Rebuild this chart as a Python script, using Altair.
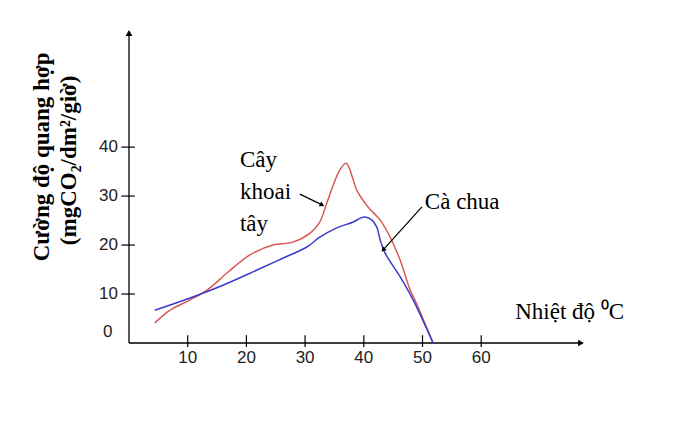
import altair as alt
import pandas as pd

# --- data ---
red_T = [4.4, 7.0, 10.4, 13.3, 16.7, 20.6, 24.5, 27.9, 30.8, 32.5, 33.7, 35.9, 37.0, 38.1, 38.8, 40.7, 42.8, 44.5, 46.2, 47.9, 48.7, 51.8]
red_v = [4.1, 6.7, 8.8, 10.8, 14.3, 18.0, 20.0, 20.6, 22.4, 24.7, 28.6, 35.3, 36.7, 33.7, 31.2, 27.8, 25.1, 21.6, 16.9, 10.8, 8.8, 0.0]
blue_T = [4.4, 10.4, 16.0, 21.8, 26.2, 30.3, 32.5, 35.4, 38.2, 39.4, 40.4, 41.4, 42.2, 42.8, 43.6, 46.2, 48.4, 51.8]
blue_v = [6.7, 9.2, 11.8, 14.9, 17.3, 19.6, 21.6, 23.5, 24.7, 25.5, 25.7, 25.1, 23.7, 21.0, 18.4, 13.5, 8.8, 0.0]

x_ticks = [10, 20, 30, 40, 50, 60]
y_ticks = [10, 20, 30, 40]
y_tick_labels = ["10", "20", "30", "40"]

X_MAX = 77
Y_MAX = 63.3

ann_labels = ["Cây", "khoai", "tây", "Cà chua", "Nhiệt độ \u2070C"]
ann_T = [18.9, 18.9, 18.9, 50.4, 65.8]
ann_v = [37.3, 30.8, 24.3, 28.8, 6.3]

RED = "#d95858"
BLUE = "#3b3bcc"
SERIF = "Liberation Serif, Times New Roman, serif"

xs = alt.Scale(domain=[0, X_MAX], nice=False, zero=False)
ys = alt.Scale(domain=[0, Y_MAX], nice=False, zero=False)

def X(f="T"):
    return alt.X(f"{f}:Q", scale=xs, axis=None)

def Y(f="v"):
    return alt.Y(f"{f}:Q", scale=ys, axis=None)

red_df = pd.DataFrame({"T": red_T, "v": red_v})
blue_df = pd.DataFrame({"T": blue_T, "v": blue_v})

red_line = alt.Chart(red_df).mark_line(color=RED, strokeWidth=1.5, interpolate="catmull-rom").encode(x=X(), y=Y())
blue_line = alt.Chart(blue_df).mark_line(color=BLUE, strokeWidth=1.5, interpolate="catmull-rom").encode(x=X(), y=Y())

# axes lines
axes_df = pd.DataFrame({"T": [0, 0], "v": [0, 0], "T2": [X_MAX, 0], "v2": [0, Y_MAX]})
axes = alt.Chart(axes_df).mark_rule(color="black", strokeWidth=1.3).encode(
    x=X(), y=Y(), x2="T2:Q", y2="v2:Q")

heads_df = pd.DataFrame({"T": [X_MAX, 0], "v": [0, Y_MAX], "a": [90, 0]})
heads = alt.Chart(heads_df).mark_point(shape="triangle-up", filled=True, color="black", size=45, opacity=1).encode(
    x=X(), y=Y(), angle=alt.Angle("a:Q", scale=None))

# ticks crossing the axes
xt_df = pd.DataFrame({"T": x_ticks, "v": [1.6] * len(x_ticks), "v2": [-0.8] * len(x_ticks)})
xt = alt.Chart(xt_df).mark_rule(color="black", strokeWidth=1.2).encode(x=X(), y=Y(), y2="v2:Q")
yt_df = pd.DataFrame({"v": y_ticks, "T": [-1.3] * len(y_ticks), "T2": [1.0] * len(y_ticks)})
yt = alt.Chart(yt_df).mark_rule(color="black", strokeWidth=1.2).encode(y=Y(), x=X(), x2="T2:Q")

# tick labels
xl_df = pd.DataFrame({"T": x_ticks, "v": [-3.0] * len(x_ticks), "lab": [str(t) for t in x_ticks]})
xl = alt.Chart(xl_df).mark_text(font="Liberation Sans", fontSize=17, color="#222", baseline="middle", align="center").encode(
    x=X(), y=Y(), text="lab:N")
yl_df = pd.DataFrame({"v": y_ticks + [2.3], "T": [-1.9] * len(y_ticks) + [-2.8], "lab": y_tick_labels + ["0"]})
yl = alt.Chart(yl_df).mark_text(font="Liberation Sans", fontSize=17, color="#222", baseline="middle", align="right").encode(
    x=X(), y=Y(), text="lab:N")

# annotations
ann_df = pd.DataFrame({"T": ann_T, "v": ann_v, "lab": ann_labels})
ann = alt.Chart(ann_df).mark_text(font=SERIF, fontSize=23, color="black", align="left", baseline="middle").encode(
    x=X(), y=Y(), text="lab:N")

# arrows
arr_df = pd.DataFrame({"T": [29.1, 49.9], "v": [30.4, 27.8], "T2": [32.9, 43.3], "v2": [28.2, 19.0]})
arr = alt.Chart(arr_df).mark_rule(color="black", strokeWidth=1.2).encode(x=X(), y=Y(), x2="T2:Q", y2="v2:Q")
ah_df = pd.DataFrame({"T": [32.9, 43.3], "v": [28.2, 19.0], "a": [116.6, 222.2]})
ah = alt.Chart(ah_df).mark_point(shape="triangle-up", filled=True, color="black", size=30, opacity=1).encode(
    x=X(), y=Y(), angle=alt.Angle("a:Q", scale=None))

# y title (two rotated lines)
yt1_df = pd.DataFrame({"T": [-14.8, -10.2], "v": [38.0, 37.3], "lab": ["Cường độ quang hợp", "(mgCO\u2082/dm\u00b2/giờ)"]})
ytitle = alt.Chart(yt1_df).mark_text(font=SERIF, fontSize=23, fontWeight="bold", color="black",
                                     angle=270, align="center", baseline="middle").encode(
    x=X(), y=Y(), text="lab:N")

chart = alt.layer(axes, heads, xt, yt, xl, yl, red_line, blue_line, ann, arr, ah, ytitle).properties(
    width=452, height=310,
    autosize=alt.AutoSizeParams(type="none"),
    padding={"left": 121, "top": 25, "right": 94, "bottom": 83},
    background="white",
).configure_view(stroke=None)

chart.save("out.html", embed_options={"renderer": "svg", "actions": False})
